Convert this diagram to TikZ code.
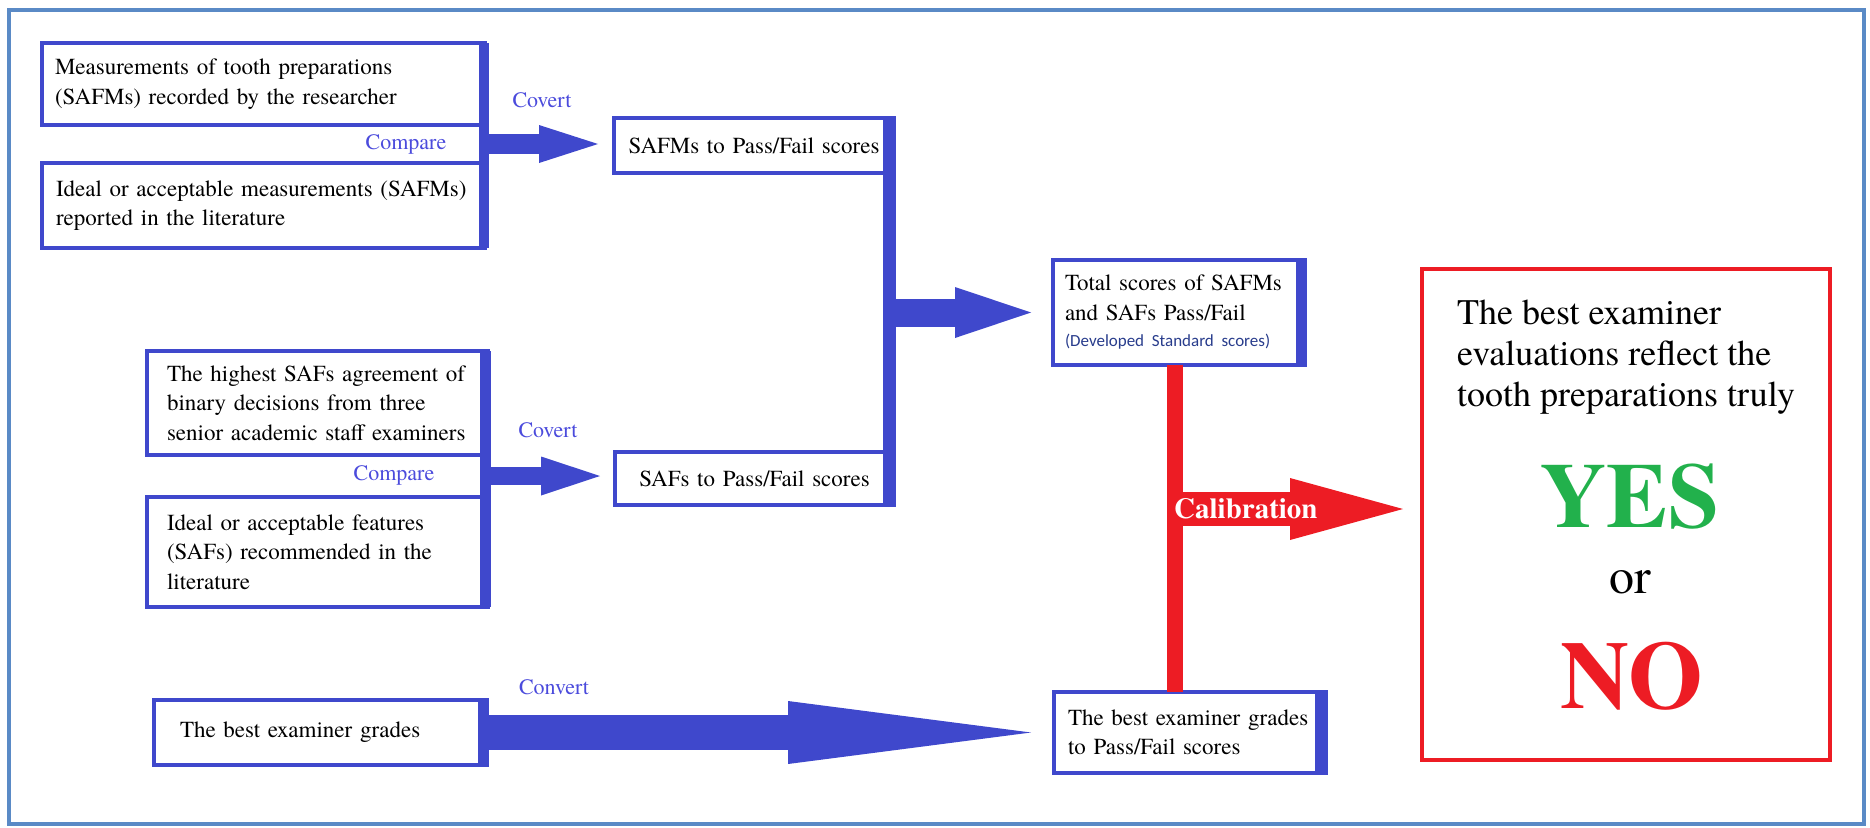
\documentclass[tikz,border=0pt]{standalone}
\usepackage{fontspec}
\setmainfont{texgyretermes}[Extension=.otf,UprightFont=*-regular,BoldFont=*-bold,ItalicFont=*-italic,BoldItalicFont=*-bolditalic]
\newfontfamily\noteFont{Carlito}
\usepackage{tikz}
\usetikzlibrary{arrows.meta,calc}
\definecolor{cB}{HTML}{3F48CC}
\definecolor{cR}{HTML}{ED1C24}
\definecolor{cG}{HTML}{22B14C}
\definecolor{cL}{HTML}{4B4BDC}
\definecolor{cF}{HTML}{5A8AC6}
\definecolor{cN}{HTML}{283C8C}
\tikzset{
  box/.style={draw=cB,line width=4pt,outer sep=0pt,fill=white,align=left,inner ysep=0pt,font=\fontsize{23}{29.5}\selectfont},
  lbl/.style={text=cL,inner sep=0pt,font=\fontsize{22}{26}\selectfont},
  bar/.style={draw=cB,line width=#1},
  fat/.style n args={4}{draw=#1,line width=#2,-{Triangle[length=#3 0 0,width=#4 0 0,line width=0pt 0 0]}}
}

\begin{document}
\begin{tikzpicture}[x=1pt,y=-1pt]
  \useasboundingbox (0,0) rectangle (1870,827);
  \draw[cF,line width=4pt] (9,10) rectangle (1864,824);
  \node[box,text width=417pt,inner xsep=13pt,minimum height=82pt] (meas) at (263.5,84) {Measurements of tooth preparations\\(SAFMs) recorded by the researcher};
  \node[box,text width=415pt,inner xsep=14pt,minimum height=85pt] (idealM) at (263.5,205.5) {Ideal or acceptable measurements (SAFMs)\\reported in the literature};
  \node[box,text width=301pt,inner xsep=20pt,minimum height=104pt] (high) at (317.5,403) {The highest SAFs agreement of\\binary decisions from three\\senior academic staff examiners};
  \node[box,text width=301pt,inner xsep=20pt,minimum height=110pt] (idealF) at (317.5,552) {Ideal or acceptable features\\(SAFs) recommended in the\\literature};
  \node[box,text width=281pt,inner xsep=26pt,minimum height=65pt] (grades) at (320.5,732.5) {The best examiner grades};
  \node[box,align=center,text width=264pt,inner xsep=8pt,minimum height=55pt] (passM) at (754,145.5) {SAFMs to Pass/Fail scores};
  \node[box,align=center,text width=263pt,inner xsep=8pt,minimum height=53pt] (passS) at (754.5,478.5) {SAFs to Pass/Fail scores};
  \node[box,text width=228pt,inner xsep=12pt,minimum height=105pt] (total) at (1179,312.5) {Total scores of SAFMs\\and SAFs Pass/Fail\\[-3pt]{\noteFont\fontsize{17}{20}\selectfont\color{cN}(Developed Standard scores)}};
  \node[box,text width=244pt,inner xsep=14pt,minimum height=81pt] (passG) at (1190,732.5) {The best examiner grades\\to Pass/Fail scores};
  \node[draw=cR,line width=4pt,outer sep=0pt,minimum width=408pt,minimum height=491pt] (res) at (1626,514.5) {};
  \node[anchor=west,align=left,inner sep=0pt,font=\fontsize{36}{41}\selectfont] (quest) at (1457,357) {The best examiner\\evaluations reflect the\\tooth preparations truly};
  \node[anchor=base,inner sep=0pt,text=cG,font=\fontsize{92}{96}\selectfont\bfseries] (yes) at (1630,527) {YES};
  \node[anchor=base,inner sep=0pt,font=\fontsize{50}{54}\selectfont] (or) at (1630,593) {or};
  \node[anchor=base,inner sep=0pt,text=cR,font=\fontsize{96}{100}\selectfont\bfseries] (no) at (1632,708) {NO};
  \node[lbl] (cmp1) at (406,144) {Compare};
  \node[lbl] (cov1) at (542,100) {Covert};
  \node[lbl] (cmp2) at (394,475) {Compare};
  \node[lbl] (cov2) at (548,430) {Covert};
  \node[lbl] (conv) at (554,687) {Convert};
  \coordinate (m1) at ($(meas.south east)!.5!(idealM.north east)$);
  \coordinate (m2) at ($(high.south east)!.5!(idealF.north east)$);
  \coordinate (cal) at (1175,509);
  \draw[bar=10pt] ([xshift=-1pt]meas.north east) -- ([xshift=-1pt]idealM.south east);
  \draw[bar=11pt] ([xshift=-3pt]high.north east) -- ([xshift=-3pt]idealF.south east);
  \draw[bar=13pt] ([xshift=-4.5pt]passM.north east) -- ([xshift=-4.5pt]passS.south east);
  \draw[bar=11pt] ([xshift=-4pt]grades.north east) -- ([xshift=-4pt]grades.south east);
  \draw[bar=10pt] ([xshift=-4pt]total.north east) -- ([xshift=-4pt]total.south east);
  \draw[bar=12pt] ([xshift=-5pt]passG.north east) -- ([xshift=-5pt]passG.south east);
  \draw[fat={cB}{20pt}{59pt}{38pt}] ([xshift=3pt]m1) -- ([xshift=-16pt]m1 -| passM.west);
  \draw[fat={cB}{18pt}{59pt}{39pt}] ([xshift=2pt]m2) -- ([xshift=-15pt]m2 -| passS.west);
  \draw[fat={cB}{28pt}{76pt}{51pt}] ([xshift=2pt]passM.east |- total.west) -- ([xshift=-22pt]total.west);
  \draw[fat={cB}{35pt}{243pt}{63pt}] (grades.east) -- ([xshift=-23pt]grades.east -| passG.west);
  \draw[cR,line width=16pt] ([xshift=-4pt]total.south) -- ([xshift=-4pt]total.south |- passG.north);
  \draw[fat={cR}{34pt}{113pt}{62pt}] ([xshift=8pt]cal) -- ([xshift=-19pt]cal -| res.west);
  \node[anchor=west,inner sep=0pt,text=white,font=\fontsize{29}{31}\selectfont\bfseries] (calib) at (1174,509) {Calibration};
\end{tikzpicture}
\end{document}
